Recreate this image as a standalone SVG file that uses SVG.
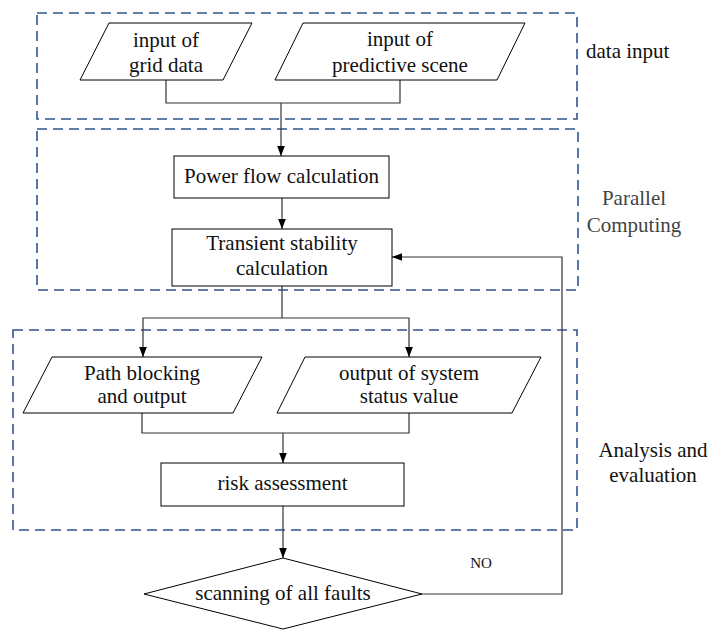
<svg xmlns="http://www.w3.org/2000/svg" width="708" height="630" viewBox="0 0 708 630">
<style>
  .t { font-family: "Liberation Serif", "Times New Roman", serif; font-size: 21px; fill: #111; text-anchor: middle; }
  .lab { font-family: "Liberation Serif", "Times New Roman", serif; font-size: 21px; fill: #111; }
  .gray { fill: #444; }
  .shape { fill: #fff; stroke: #000; stroke-width: 1; }
  .group { fill: none; stroke: #2f5590; stroke-width: 1.6; stroke-dasharray: 10 6; }
  .line { fill: none; stroke: #333; stroke-width: 1.2; }
  .arrow { fill: none; stroke: #333; stroke-width: 1.2; marker-end: url(#ah); }
</style>
<defs>
  <marker id="ah" markerWidth="10" markerHeight="13" refX="13" refY="5" viewBox="0 0 13 10" orient="auto" markerUnits="userSpaceOnUse">
    <path d="M0,0 L13,5 L0,10 Z" fill="#000"/>
  </marker>
</defs>
<rect width="708" height="630" fill="#fff"/>

<g id="groups">
  <rect x="37" y="13" width="540" height="106" class="group"/>
  <rect x="37" y="129" width="541" height="161" class="group"/>
  <rect x="13" y="330" width="564" height="200" class="group"/>
</g>

<g id="group-labels">
  <text class="lab" x="586" y="58">data input</text>
  <text class="t gray" x="634" y="205">Parallel</text>
  <text class="t gray" x="634" y="232">Computing</text>
  <text class="t" x="653" y="457">Analysis and</text>
  <text class="t" x="653" y="482">evaluation</text>
</g>

<g id="connectors">
  <polyline class="line" points="166,80 166,103 400,103 400,80"/>
  <line class="arrow" x1="281" y1="103" x2="281" y2="156"/>
  <line class="arrow" x1="282" y1="198" x2="282" y2="229"/>
  <polyline class="line" points="282,286 282,318"/>
  <polyline class="arrow" points="282,318 143,318 143,357"/>
  <polyline class="arrow" points="282,318 409,318 409,357"/>
  <polyline class="line" points="142,413 142,433 409,433 409,413"/>
  <line class="arrow" x1="283" y1="433" x2="283" y2="463"/>
  <line class="arrow" x1="283" y1="506" x2="283" y2="558"/>
  <polyline class="arrow" points="422,594 562,594 562,257 392,257"/>
  <text x="481" y="568" style="font-family:'Liberation Serif','Times New Roman',serif;font-size:15px;fill:#111;text-anchor:middle">NO</text>
</g>

<g id="input-grid-data">
  <polygon class="shape" points="109,23 252,23 223,80 80,80"/>
  <text class="t" x="166" y="47">input of</text>
  <text class="t" x="166" y="72">grid data</text>
</g>

<g id="input-predictive-scene">
  <polygon class="shape" points="303,23 525,23 497,80 275,80"/>
  <text class="t" x="400" y="46">input of</text>
  <text class="t" x="400" y="72">predictive scene</text>
</g>

<g id="power-flow">
  <rect class="shape" x="174" y="156" width="215" height="42"/>
  <text class="t" x="281.5" y="183">Power flow calculation</text>
</g>

<g id="transient-stability">
  <rect class="shape" x="172" y="229" width="220" height="57"/>
  <text class="t" x="282" y="250">Transient stability</text>
  <text class="t" x="282" y="275">calculation</text>
</g>

<g id="path-blocking">
  <polygon class="shape" points="52,357 262,357 233,413 23,413"/>
  <text class="t" x="142" y="380">Path blocking</text>
  <text class="t" x="142" y="403">and output</text>
</g>

<g id="system-status">
  <polygon class="shape" points="305,357 541,357 512,413 277,413"/>
  <text class="t" x="409" y="380">output of system</text>
  <text class="t" x="409" y="403">status value</text>
</g>

<g id="risk-assessment">
  <rect class="shape" x="161" y="463" width="243" height="43"/>
  <text class="t" x="282.5" y="490">risk assessment</text>
</g>

<g id="scanning-faults">
  <polygon class="shape" points="283,558 422,594 283,629 144,594"/>
  <text class="t" x="283" y="600">scanning of all faults</text>
</g>
</svg>
